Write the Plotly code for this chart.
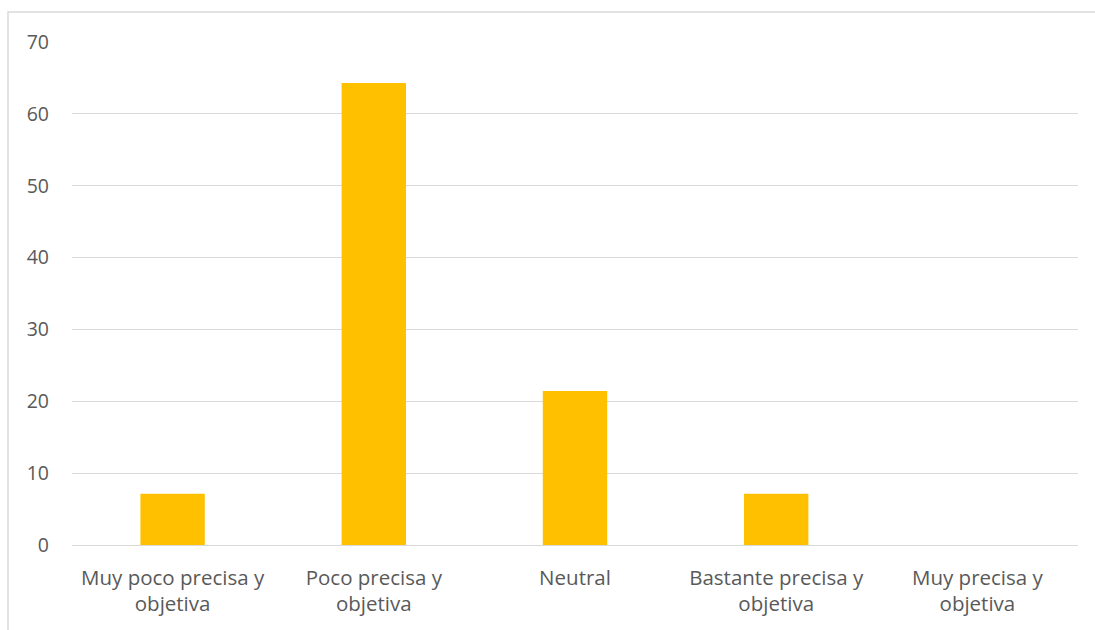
import plotly.graph_objects as go

categories = ["Muy poco precisa y<br>objetiva", "Poco precisa y<br>objetiva", "Neutral",
              "Bastante precisa y<br>objetiva", "Muy precisa y<br>objetiva"]
values = [7.14, 64.29, 21.43, 7.14, 0]
y_ticks = [0, 10, 20, 30, 40, 50, 60, 70]

W, H = 1095, 630
ml, mr, mt, mb = 72, 17, 42, 85
pw, ph = W - ml - mr, H - mt - mb

def px_x(x):
    return (x - ml) / pw

def px_y(y):
    return (H - mb - y) / ph

fig = go.Figure(go.Bar(x=categories, y=values, marker_color="#FFC000", marker_line_width=0))

fig.update_layout(
    width=W, height=H,
    margin=dict(l=ml, r=mr, t=mt, b=mb),
    paper_bgcolor="white", plot_bgcolor="white",
    bargap=0.68,
    showlegend=False,
    font=dict(family="Open Sans", size=19, color="#595959"),
    shapes=[dict(type="rect", xref="paper", yref="paper",
                 x0=px_x(8), x1=px_x(1110), y0=px_y(650), y1=px_y(12),
                 line=dict(color="#D9D9D9", width=1.5), fillcolor="rgba(0,0,0,0)", layer="below")],
)
fig.update_xaxes(showgrid=False, showline=True, linecolor="#D9D9D9", linewidth=1,
                 ticks="", ticklabelstandoff=14, tickfont=dict(size=20.5, color="#595959"))
fig.update_yaxes(range=[0, 70], tickvals=y_ticks, showgrid=True, gridcolor="#D9D9D9",
                 gridwidth=1, zeroline=False, showline=False, ticks="",
                 ticklabelstandoff=22, tickfont=dict(size=19.5, color="#595959"))

fig.write_html("out.html")
